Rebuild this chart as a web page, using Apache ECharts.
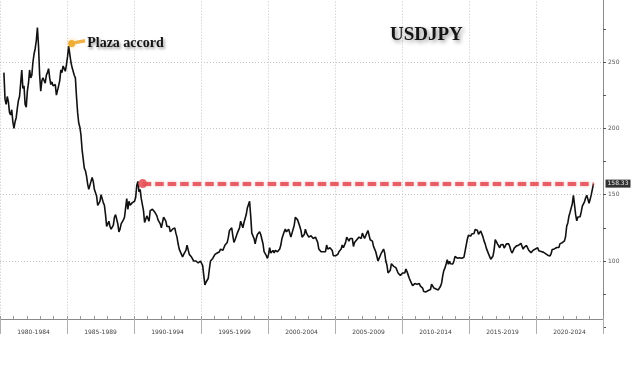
<!DOCTYPE html>
<html>
<head>
<meta charset="utf-8">
<script src="https://cdn.jsdelivr.net/npm/echarts@6/dist/echarts.min.js"></script>
<style>
html,body{margin:0;padding:0;background:#fff;}
#chart{width:636px;height:366px;}
</style>
</head>
<body>
<div id="chart"></div>
<script>
// First observation: April 1980, then monthly
const firstYear = 1980;
const firstMonth = 4;

const usdjpy1980s = [
  242, 222, 218, 224, 220, 212, 210, 214, 205,
  200, 205, 208, 215, 221, 224, 234, 244, 230, 232, 218, 216,
  228, 234, 244, 238, 240, 250, 256, 260, 266, 276, 262, 240,
  228, 236, 238, 237, 234, 240, 242, 245, 238, 233, 235, 232,
  232, 233, 225, 226, 232, 236, 244, 242, 247, 245, 243, 248,
  254, 262, 256, 250, 246, 245, 240, 238, 224, 212, 204, 201,
  195, 184, 177, 170, 168, 164, 158, 154, 155, 160, 163, 160,
  154, 153, 149, 142, 141, 145, 150, 149, 144, 142, 135, 126,
  128, 130, 126, 124, 125, 127, 133, 135, 134, 128, 122, 124,
  128, 127, 131, 133, 140, 147, 139, 145, 142, 142, 144, 145
];
const usdjpy1990s = [
  145, 148, 157, 160, 152, 154, 147, 147, 138, 129, 130, 134,
  134, 130, 138, 137, 139, 140, 137, 137, 134, 131, 130, 128,
  125, 129, 133, 133, 130, 126, 127, 126, 122, 123, 124, 124,
  125, 121, 118, 113, 109, 108, 105, 103, 105, 106, 108, 112,
  111, 105, 105, 103, 104, 100, 98.5, 100, 98.8, 98.5, 98, 100,
  99.7, 96.5, 89, 82, 84, 85, 87, 94, 100, 100, 101.9, 102,
  105, 105, 106, 107, 107, 109, 109, 108, 110, 112, 113, 114,
  118, 123, 122, 125, 119, 114, 116, 117, 121, 121, 125, 130,
  129, 125, 129, 132, 135, 140, 141, 145, 134, 121, 121, 117,
  113, 117, 120, 120, 122, 120, 119, 113, 107, 106, 104, 102
];
const usdjpy2000s = [
  105, 110, 106, 105, 108, 106, 108, 108, 107, 108, 109, 112,
  117, 116, 122, 124, 122, 123, 124, 121, 118, 121, 122, 127,
  133, 133, 131, 130, 126, 123, 118, 119, 120, 124, 121, 121,
  118, 119, 119, 119, 117, 118, 118, 118, 114, 109, 109, 107,
  106, 107, 108, 107, 112, 109, 109, 110, 110, 108, 104, 103,
  104, 105, 105, 107, 107, 109, 112, 110, 111, 114, 118, 119,
  115, 117, 117, 117, 111, 114, 115, 116, 117, 118, 117, 117,
  121, 121, 117, 119, 121, 123, 122, 116, 115, 115, 111, 112,
  107, 107, 100, 102, 104, 106, 106, 109, 106, 100, 97, 91,
  90, 93, 98, 99, 96, 96, 95, 95, 91, 90, 89, 90
];
const usdjpy2010s = [
  91, 90, 91, 94, 92, 91, 87, 85, 85, 81.5, 83, 83,
  82.5, 82.5, 81.5, 83, 81, 80.5, 79.5, 77, 76.8, 76.7, 77.5, 77.8,
  76.9, 78.5, 82.5, 81.5, 79.7, 79.3, 78.9, 78.7, 78.2, 79, 81, 83.5,
  89, 93, 94.8, 97.7, 101, 97.5, 99.7, 97.9, 99, 97.8, 100, 103.5,
  103.9, 102.1, 102.3, 102.5, 101.8, 102.1, 101.8, 102.9, 107.4, 108, 116.4, 119.4,
  118.3, 118.8, 120.4, 119.5, 120.8, 123.7, 123.3, 123.2, 120.1, 120.1, 122.6, 121.6,
  118.2, 115, 112.9, 109.7, 109.2, 105.4, 104.1, 101.3, 102, 103.8, 108.6, 116.1,
  114.7, 112.9, 112.9, 110, 112.3, 110.9, 112.4, 109.8, 110.8, 112.9, 112.8, 112.9,
  110.9, 107.9, 106, 107.6, 109.7, 110.1, 111.4, 111, 111.9, 112.8, 113.3, 112.1,
  108.9, 110.5, 111.2, 111.7, 109.9, 108.1, 108.3, 106.3, 107.5, 108.1, 108.9, 109.1
];
const usdjpy2020s = [
  109.3, 110, 107.7, 107.8, 107.2, 107.6, 106.7, 106, 105.6, 105.2, 104.4, 103.8,
  103.8, 105.4, 108.7, 109.1, 109.1, 110.1, 110.2, 109.8, 110.2, 113.1, 114.1, 113.8,
  114.8, 115.2, 118.5, 126.3, 128.7, 133.8, 136.7, 135.3, 143.2, 149.5, 142.4, 134.9,
  130.3, 133.2, 133.1, 133.4, 137, 141.3, 141.3, 144.8, 147.7, 149.6, 150.5, 143.5,
  146.5, 150, 151.3, 158.33
];

const bandLabels = ['1980-1984','1985-1989','1990-1994','1995-1999','2000-2004','2005-2009','2010-2014','2015-2019','2020-2024'];
const yTickLabels = [100, 150, 200, 250];

const lastValue = 158.33;
const plazaDate = 1985.35, plazaValue = 264;
const plazaText = 'Plaza accord';
const titleText = 'USDJPY';
const peak1990Date = 1990.65;

const allValues = [].concat(usdjpy1980s, usdjpy1990s, usdjpy2000s, usdjpy2010s, usdjpy2020s);
const seriesData = allValues.map(function (v, i) {
  const m = firstMonth - 1 + i;
  const yr = firstYear + Math.floor(m / 12);
  const mo = m % 12;
  return [yr + (mo + 0.5) / 12, v];
});
const lastX = seriesData[seriesData.length - 1][0];

const chart = echarts.init(document.getElementById('chart'), null, {renderer: 'canvas'});
const gridTop = -4.35, gridBottomPx = 327.35;
const axisYpx = 319;
const axisOffset = -(gridBottomPx - axisYpx);

chart.setOption({
  animation: false,
  backgroundColor: '#ffffff',
  title: {
    text: titleText,
    left: 385, top: 21,
    textStyle: {
      fontFamily: 'Liberation Serif', fontWeight: 'bold', fontSize: 19, color: '#141414',
      textShadowColor: 'rgba(0,0,0,0.45)', textShadowBlur: 4, textShadowOffsetX: 2, textShadowOffsetY: 2
    }
  },
  grid: {
    left: 0, right: 33, top: gridTop, bottom: 366 - gridBottomPx,
    containLabel: false, outerBoundsMode: 'none'
  },
  xAxis: [
    {
      type: 'value', min: 1980, max: 2025, interval: 1,
      position: 'bottom', offset: axisOffset,
      axisLine: {show: true, lineStyle: {color: '#8a8a8a', width: 1}},
      axisTick: {show: true, inside: true, length: 3, lineStyle: {color: '#9a9a9a'}},
      axisLabel: {show: false},
      splitLine: {show: false}
    },
    {
      type: 'category', data: bandLabels, boundaryGap: true,
      position: 'bottom', offset: axisOffset,
      axisLine: {show: false},
      axisTick: {show: true, interval: 0, length: 15, lineStyle: {color: '#b0b0b0'}},
      axisLabel: {show: true, interval: 0, fontSize: 6, color: '#444', margin: 10, fontFamily: 'DejaVu Sans'},
      splitLine: {show: true, interval: 0, lineStyle: {color: '#c4c4c4', type: [1, 2], width: 1}}
    }
  ],
  yAxis: {
    type: 'value', position: 'right', min: 50, max: 300, interval: 50,
    axisLine: {show: true, lineStyle: {color: '#8a8a8a', width: 1}},
    axisTick: {show: true, length: 3, lineStyle: {color: '#555'}},
    minorTick: {show: true, splitNumber: 2, length: 3, lineStyle: {color: '#555'}},
    axisLabel: {
      fontSize: 6, color: '#555', margin: 5, fontFamily: 'DejaVu Sans',
      formatter: function (v) { return yTickLabels.indexOf(v) >= 0 ? String(v) : ''; }
    },
    splitLine: {show: true, showMinLine: false, showMaxLine: false, lineStyle: {color: '#c4c4c4', type: [1, 2], width: 1}}
  },
  series: [{
    type: 'line',
    xAxisIndex: 0,
    data: seriesData,
    showSymbol: false,
    symbol: 'none',
    lineStyle: {color: '#111', width: 1.6},
    silent: true,
    markLine: {
      silent: true,
      symbol: ['none', 'none'],
      data: [
        [
          {coord: [peak1990Date, lastValue], symbol: 'circle', symbolSize: 9,
           itemStyle: {color: '#e5535b'}},
          {coord: [lastX, lastValue], symbol: 'none',
           label: {show: true, position: 'end', distance: 12, formatter: String(lastValue),
             color: '#fff', backgroundColor: '#1c1c1c', padding: [1, 2, 1, 2], fontSize: 6, fontFamily: 'DejaVu Sans'}}
        ],
        [
          {coord: [plazaDate + 0.25, plazaValue + 0.6], symbol: 'none',
           lineStyle: {color: '#eeaa33', width: 3.5, type: 'solid', shadowBlur: 0}, label: {show: false}},
          {coord: [plazaDate + 1.0, plazaValue + 2.0], symbol: 'none', label: {show: false}}
        ]
      ],
      lineStyle: {color: '#e5535b', width: 4, type: [8.5, 4], opacity: 0.9,
        shadowColor: 'rgba(229,83,91,0.5)', shadowBlur: 3},
      label: {show: false}
    },
    markPoint: {
      silent: true,
      data: [{
        coord: [plazaDate, plazaValue], symbol: 'circle', symbolSize: 7,
        itemStyle: {color: '#f0ad35', shadowColor: 'rgba(240,173,53,0.6)', shadowBlur: 4},
        label: {show: true, position: 'right', distance: 12, formatter: plazaText,
          fontFamily: 'Liberation Serif', fontWeight: 'bold', fontSize: 14, color: '#141414',
          textShadowColor: 'rgba(0,0,0,0.4)', textShadowBlur: 3, textShadowOffsetX: 1.5, textShadowOffsetY: 1.5}
      }]
    }
  }]
});
</script>
</body>
</html>
